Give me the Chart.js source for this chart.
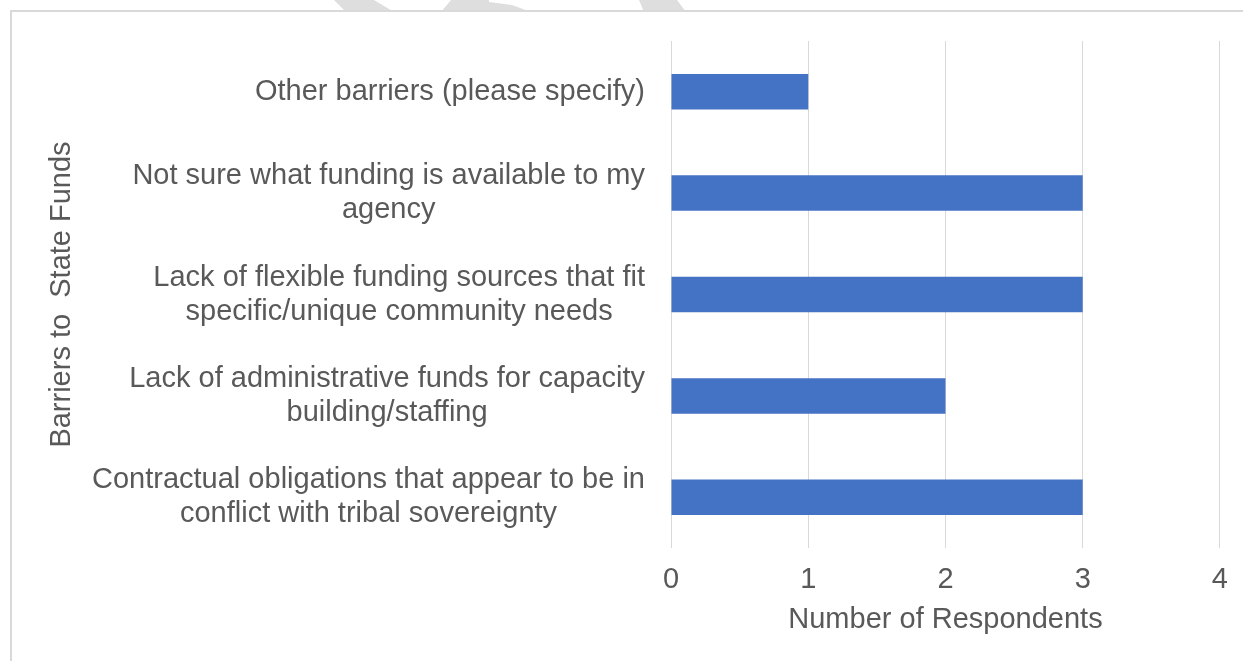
<!DOCTYPE html>
<html>
<head>
<meta charset="utf-8">
<script src="https://cdn.jsdelivr.net/npm/chart.js@4"></script>
<style>
  html, body { margin: 0; padding: 0; background: #ffffff; }
  #wrap { width: 1243px; height: 661px; }
</style>
</head>
<body>
<div id="wrap"><canvas id="barreirasChart"></canvas></div>
<script>
// categorias (de cima para baixo no gráfico)
const barreiras = [
    'Other barriers (please specify)',
    ['Not sure what funding is available to my', 'agency'],
    ['Lack of flexible funding sources that fit', 'specific/unique community needs'],
    ['Lack of administrative funds for capacity', 'building/staffing'],
    ['Contractual obligations that appear to be in', 'conflict with tribal sovereignty']
];
const respondentes = [1, 3, 3, 2, 3];
const ticksX = [0, 1, 2, 3, 4];

const corTexto = '#595959';
const corGrade = '#d9d9d9';
const fonte = 'Arial, "Liberation Sans", sans-serif';
const tamFonte = 29;

// moldura cinza e marca d'agua cortada no topo
const molduraPlugin = {
    id: 'moldura',
    beforeDraw(chart) {
        const ctx = chart.ctx;
        ctx.save();
        ctx.fillStyle = '#dedede';
        const formas = [
            [[334, 0], [374, 0], [394, 12], [346, 12]],
            [[451, 0], [489, 0], [489, 2], [512, 5], [531, 12], [441, 12]],
            [[639, 0], [677, 0], [686, 12], [644, 12]]
        ];
        formas.forEach(f => {
            ctx.beginPath();
            f.forEach(([x, y], i) => i ? ctx.lineTo(x, y) : ctx.moveTo(x, y));
            ctx.closePath();
            ctx.fill();
        });
        ctx.strokeStyle = corGrade;
        ctx.lineWidth = 2;
        ctx.beginPath();
        ctx.moveTo(11, 700);
        ctx.lineTo(11, 11);
        ctx.lineTo(1300, 11);
        ctx.stroke();
        ctx.restore();
    }
};

// rótulos do eixo y: bloco alinhado à direita, linhas centralizadas entre si
const rotulosPlugin = {
    id: 'rotulos',
    afterDraw(chart) {
        const ctx = chart.ctx;
        const y = chart.scales.y;
        const lh = 34;
        ctx.save();
        ctx.font = tamFonte + 'px ' + fonte;
        ctx.fillStyle = corTexto;
        ctx.textAlign = 'center';
        ctx.textBaseline = 'middle';
        barreiras.forEach((lbl, i) => {
            const linhas = Array.isArray(lbl) ? lbl : [lbl];
            const larg = Math.max(...linhas.map(l => ctx.measureText(l).width));
            const cx = y.right - 26 - larg / 2;
            const cy = y.getPixelForTick(i);
            linhas.forEach((l, j) => {
                ctx.fillText(l, cx, cy + (j - (linhas.length - 1) / 2) * lh);
            });
        });
        ctx.restore();
    }
};

Chart.defaults.font.family = fonte;
Chart.defaults.color = corTexto;

new Chart(document.getElementById('barreirasChart'), {
    type: 'bar',
    data: {
        labels: barreiras,
        datasets: [{
            data: respondentes,
            backgroundColor: '#4472c4',
            borderWidth: 0,
            categoryPercentage: 1,
            barPercentage: 0.35
        }]
    },
    options: {
        indexAxis: 'y',
        responsive: true,
        maintainAspectRatio: false,
        animation: false,
        events: [],
        layout: { padding: { top: 41, right: 22, bottom: 0, left: 12 } },
        plugins: {
            legend: { display: false },
            tooltip: { enabled: false }
        },
        scales: {
            x: {
                min: ticksX[0],
                max: ticksX[ticksX.length - 1],
                afterBuildTicks: s => { s.ticks = ticksX.map(v => ({ value: v })); },
                afterFit: s => { s.height = 113; },
                grid: { color: corGrade, lineWidth: 1, drawTicks: false },
                border: { display: false },
                ticks: { padding: 15, font: { size: tamFonte }, color: corTexto },
                title: {
                    display: true,
                    text: 'Number of Respondents',
                    font: { size: tamFonte },
                    color: corTexto,
                    padding: { top: 0, bottom: 24 }
                }
            },
            y: {
                afterFit: s => { s.width = 671 - 12; },
                grid: { display: false, drawTicks: false },
                border: { display: false },
                ticks: { display: false },
                title: {
                    display: true,
                    text: 'Barriers to  State Funds',
                    font: { size: tamFonte },
                    color: corTexto,
                    padding: { top: 33, bottom: 0 }
                }
            }
        }
    },
    plugins: [molduraPlugin, rotulosPlugin]
});
</script>
</body>
</html>
